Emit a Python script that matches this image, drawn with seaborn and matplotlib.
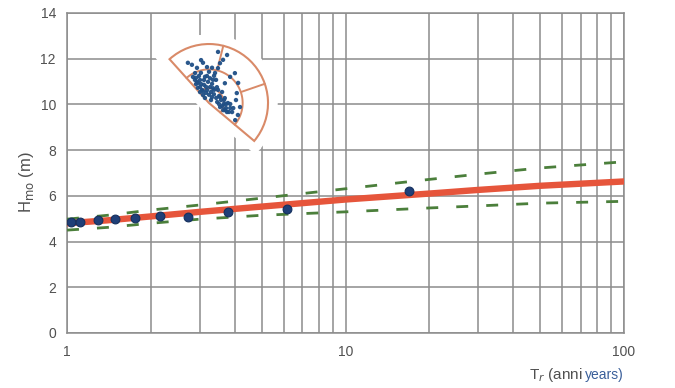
import numpy as np
import pandas as pd
import matplotlib
matplotlib.use("Agg")
import matplotlib.pyplot as plt
from matplotlib.patches import Wedge
import seaborn as sns

# observed storms: return period (years) vs significant wave height (m)
return_period = [1.03, 1.11, 1.29, 1.49, 1.75, 2.16, 2.72, 3.79, 6.17, 16.9]
wave_height = [4.84, 4.87, 4.94, 4.99, 5.02, 5.13, 5.09, 5.28, 5.41, 6.20]

# fitted curve and confidence band, read at a few return periods
band_T = [1, 1.4, 2, 3, 5, 10, 20, 30, 50, 100]
fit_H = [4.80, 4.93, 5.10, 5.30, 5.53, 5.84, 6.10, 6.26, 6.44, 6.63]
upper_H = [4.98, 5.15, 5.38, 5.60, 5.90, 6.31, 6.72, 6.95, 7.22, 7.49]
lower_H = [4.50, 4.62, 4.80, 4.98, 5.15, 5.30, 5.47, 5.56, 5.68, 5.76]

# inset: storm directions (deg) and relative height
storm_dir = [121.6, 119.7, 119.4, 118.3, 98.7, 86.4, 80.1, 78.7, 75.6, 74.6,
             72.0, 63.4, 7.1, -20.0, -26.6, -26.6, -13.4, 126.9, 118.8, 115.0,
             98.7, 92.7, 63.4, 40.2, 17.4, 0.0, -21.4, 114.1, 98.5, 69.4,
             49.1, 34.6, 19.7, -7.4, -22.5, 51.1, 51.3, 108.9, 93.2, 111.4,
             105.5, 117.5, 106.7, 79.7, 69.0, 105.0, 90.0, 85.1, 35.0, -3.8,
             -16.4, 14.0,
             121.3, 126.3, 112.8, 102.3, 94.2, 87.7, 81.0, 100.6, 116.6, 90.0,
             61.0, 35.5, -5.7, -13.0, -23.6, -24.2, -3.4, 55.3, 73.1, 79.5,
             110.3, 124.4, 129.3, 56.0, 128.7, 75.0, 28.6, 11.3, -2.7, -11.8,
             117.7, 100.5, 80.0, 6.3, -33.2]
storm_rel = [0.52, 0.41, 0.31, 0.25, 0.22, 0.27, 0.40, 0.52, 0.61, 0.70,
             0.77, 0.11, 0.14, 0.20, 0.27, 0.34, 0.37, 0.17, 0.39, 0.56,
             0.45, 0.36, 0.30, 0.29, 0.28, 0.32, 0.42, 0.71, 0.69, 0.87,
             0.67, 0.60, 0.50, 0.53, 0.53, 0.57, 0.43, 0.63, 0.61, 0.42,
             0.32, 0.48, 0.18, 0.19, 0.24, 0.53, 0.53, 0.60, 0.21, 0.25,
             0.30, 0.21,
             0.46, 0.32, 0.35, 0.40, 0.46, 0.42, 0.33, 0.28, 0.23, 0.14,
             0.17, 0.15, 0.17, 0.23, 0.30, 0.37, 0.29, 0.27, 0.41, 0.47,
             0.49, 0.39, 0.24, 0.06, 0.11, 0.26, 0.21, 0.26, 0.36, 0.42,
             0.77, 0.74, 0.88, 0.46, 0.53]

sector_min, sector_max = -40, 132
ring_radii = [0.25, 0.57]
divider_dirs = [19, 76]

RED = "#e6553b"
GREEN = "#4b7f3b"
NAVY = "#1f3f78"
FAN = "#d98a68"
GRID = "#8c8c8c"
TXT = "#505050"

sns.set_style("white")
plt.rcParams["font.family"] = ["Liberation Sans", "DejaVu Sans"]

fig = plt.figure(figsize=(6.75, 3.88), dpi=100)
ax = fig.add_axes([0.0993, 0.1418, 0.8252, 0.8247])

pts = pd.DataFrame({"T": return_period, "H": wave_height})
band = pd.DataFrame({"T": band_T, "fit": fit_H, "up": upper_H, "low": lower_H})

dash = (0, (4.3, 6.5))
sns.lineplot(data=band, x="T", y="up", ax=ax, color=GREEN, lw=2.0,
             linestyle=dash, zorder=3)
sns.lineplot(data=band, x="T", y="low", ax=ax, color=GREEN, lw=2.0,
             linestyle=dash, zorder=3)
sns.lineplot(data=band, x="T", y="fit", ax=ax, color=RED, lw=4.6, zorder=4)
sns.scatterplot(data=pts, x="T", y="H", ax=ax, color=NAVY, s=40,
                edgecolor="#15305e", linewidth=0.8, zorder=5)

ax.set_xscale("log")
ax.set_xlim(1, 100)
ax.set_ylim(0, 14)
ax.set_yticks(range(0, 15, 2))
ax.set_xticks([1, 10, 100])
ax.set_xticklabels(["1", "10", "100"])
ax.grid(True, which="both", axis="x", color=GRID, lw=1.1)
ax.grid(True, which="major", axis="y", color=GRID, lw=1.1)
ax.tick_params(axis="y", length=5, color=GRID, labelsize=10, labelcolor=TXT, pad=3)
ax.tick_params(axis="x", which="both", length=0, labelsize=10, labelcolor=TXT, pad=9)
for s in ax.spines.values():
    s.set_color(GRID)
    s.set_linewidth(1.1)

ax.set_xlabel("")
ax.set_ylabel(r"H$_{\mathrm{mo}}$ (m)", fontsize=12, color=TXT)
ax.yaxis.set_label_coords(-0.055, 0.47)

# x label in two colours: place "years)" first, then the rest to its left
lbl = ax.text(1.0, -0.145, "years)", transform=ax.transAxes, ha="right",
              va="baseline", fontsize=10, color="#3a5f9a")
fig.canvas.draw()
bb = lbl.get_window_extent()
x0 = ax.transAxes.inverted().transform((bb.x0 - 3, bb.y0))[0]
ax.text(x0, -0.145, "T$_{r}$ (anni", transform=ax.transAxes, ha="right",
        va="baseline", fontsize=11, color=TXT)

# directional inset: fan of unit radius drawn in an equal-aspect axes
ax_in = fig.add_axes([145 / 675, (388 - 175) / 388, 140 / 675, 140 / 388])
ax_in.set_xlim(-1.085, 1.288)
ax_in.set_ylim(-1.220, 1.153)
ax_in.set_aspect("equal", adjustable="box")
ax_in.axis("off")

# white halo so the grid stops short of the fan
ax_in.add_patch(Wedge((0, 0), 1, sector_min, sector_max, facecolor="white",
                      edgecolor="white", lw=14, zorder=1))
ax_in.add_patch(Wedge((0, 0), 1, sector_min, sector_max, facecolor="none",
                      edgecolor=FAN, lw=1.5, zorder=2))
arc = np.radians(np.linspace(sector_min, sector_max, 100))
for r in ring_radii:
    ax_in.plot(r * np.cos(arc), r * np.sin(arc), color=FAN, lw=1.4, zorder=3)
for d in divider_dirs:
    a = np.radians(d)
    ax_in.plot(np.cos(a) * np.array([ring_radii[1], 1]),
               np.sin(a) * np.array([ring_radii[1], 1]), color=FAN, lw=1.4, zorder=3)

theta = np.radians(storm_dir)
rel = np.array(storm_rel)
sns.scatterplot(x=rel * np.cos(theta), y=rel * np.sin(theta), ax=ax_in,
                color="#1f4f86", s=10, edgecolor="none", alpha=0.95, zorder=5)

fig.savefig("out.png", dpi=100)
